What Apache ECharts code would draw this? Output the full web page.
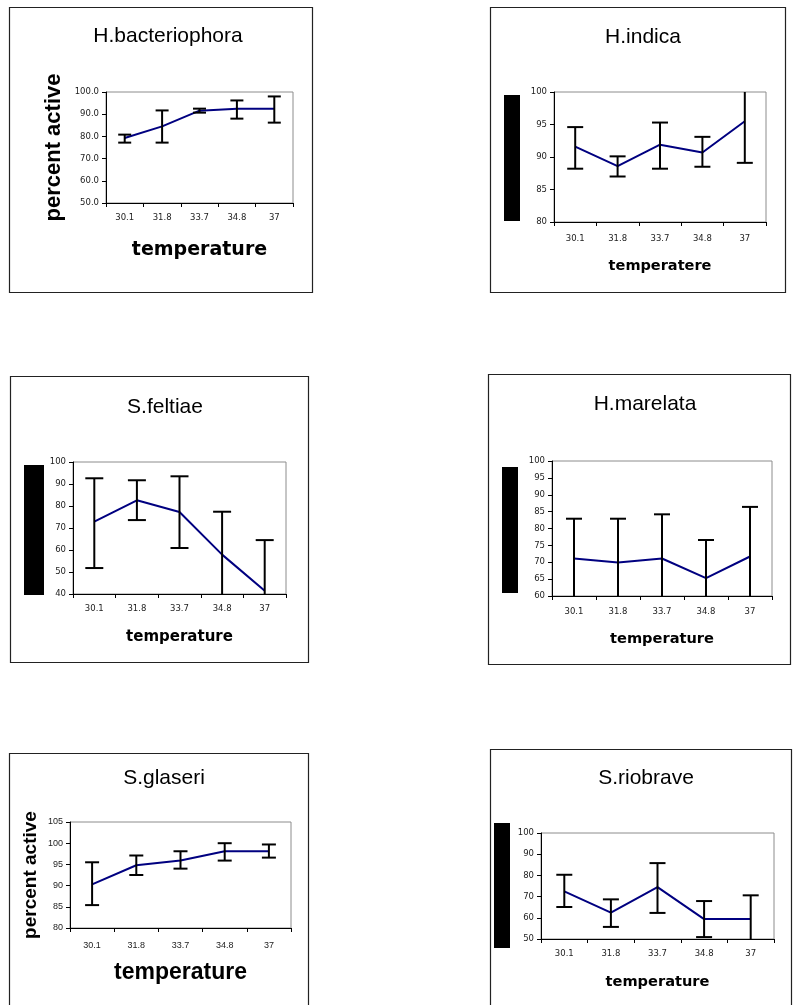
<!DOCTYPE html>
<html>
<head>
<meta charset="utf-8">
<script src="https://cdn.jsdelivr.net/npm/echarts@6/dist/echarts.min.js"></script>
<style>
html,body{margin:0;padding:0;background:#fff;}
#chart{width:795px;height:1005px;}
</style>
</head>
<body>
<div id="chart"></div>
<script>
// ---- data ----
const categories = ['30.1', '31.8', '33.7', '34.8', '37'];
const panelTitles = ['H.bacteriophora', 'H.indica', 'S.feltiae', 'H.marelata', 'S.glaseri', 'S.riobrave'];
const xAxisNames = ['temperature', 'temperatere', 'temperature', 'temperature', 'temperature', 'temperature'];
const yAxisNames = ['percent active', '', '', '', 'percent active', ''];

const bacteriophoraMean = [79.3, 84.5, 91.6, 92.5, 92.5];
const bacteriophoraLow  = [77.2, 77.2, 90.7, 88.0, 86.2];
const bacteriophoraHigh = [80.8, 91.7, 92.5, 96.2, 98.0];

const indicaMean = [91.6, 88.6, 91.9, 90.7, 95.5];
const indicaLow  = [88.2, 87.0, 88.2, 88.5, 89.1];
const indicaHigh = [94.6, 90.1, 95.3, 93.1, 101.9];

const feltiaeMean = [72.9, 82.6, 77.3, 57.9, 41.5];
const feltiaeLow  = [51.8, 73.6, 60.9, 38.4, 18.5];
const feltiaeHigh = [92.6, 91.7, 93.5, 77.4, 64.5];

const marelataMean = [71.1, 69.9, 71.1, 65.3, 71.7];
const marelataLow  = [59.3, 56.9, 58.0, 54.0, 57.0];
const marelataHigh = [82.9, 82.9, 84.2, 76.6, 86.4];

const glaseriMean = [90.3, 94.8, 95.9, 98.1, 98.1];
const glaseriLow  = [85.4, 92.5, 94.0, 95.9, 96.6];
const glaseriHigh = [95.5, 97.1, 98.1, 100.0, 99.7];

const riobraveMean = [72.5, 62.4, 74.5, 59.4, 59.4];
const riobraveLow  = [65.1, 55.7, 62.3, 50.9, 48.2];
const riobraveHigh = [80.3, 68.7, 85.8, 67.9, 70.6];

const yMins = [50, 80, 40, 60, 80, 50];
const yMaxs = [100, 100, 100, 100, 105, 100];
const yIntervals = [10, 5, 10, 5, 5, 10];
const yDecimals = [1, 0, 0, 0, 0, 0];

const means = [bacteriophoraMean, indicaMean, feltiaeMean, marelataMean, glaseriMean, riobraveMean];
const lows = [bacteriophoraLow, indicaLow, feltiaeLow, marelataLow, glaseriLow, riobraveLow];
const highs = [bacteriophoraHigh, indicaHigh, feltiaeHigh, marelataHigh, glaseriHigh, riobraveHigh];

// ---- layout / style ----
const grids = [
  {left: 106, top: 92, width: 187, height: 111},
  {left: 554, top: 92, width: 212, height: 130},
  {left: 73, top: 462, width: 213, height: 132},
  {left: 552, top: 461, width: 220, height: 135},
  {left: 70, top: 822, width: 221, height: 106},
  {left: 541, top: 833, width: 233, height: 106}
];
const boxes = [
  [9.5, 7.5, 303, 285],
  [490.5, 7.5, 295, 285],
  [10.5, 376.5, 298, 286],
  [488.5, 374.5, 302, 290],
  [9.5, 753.5, 299, 270],
  [490.5, 749.5, 301, 270]
];
const blackBars = [
  null,
  [504, 95, 16, 126],
  [24, 465, 20, 130],
  [502, 467, 16, 126],
  null,
  [494, 823, 16, 125]
];
const titlePos = [[163, 31], [638, 32], [160, 402], [640, 399], [159, 773], [641, 773]];
const xNameGap = [47, 44, 43, 43, 45, 43];
const xNameSize = [19, 14.5, 15, 14.6, 23, 14.6];
const xNameFont = ['DejaVu Sans', 'DejaVu Sans', 'DejaVu Sans', 'DejaVu Sans', 'Liberation Sans', 'DejaVu Sans'];
const xLabelMargin = [10, 12, 10, 11, 13, 10];
const yNameGap = [52, 0, 0, 0, 39, 0];
const yNameSize = [22, 0, 0, 0, 19, 0];
const capHalf = [6.5, 8, 9, 8, 7, 8];

const chart = echarts.init(document.getElementById('chart'), null, {renderer: 'canvas'});

const option = {
  animation: false,
  backgroundColor: '#fff',
  title: panelTitles.map((t, i) => ({
    text: t,
    left: titlePos[i][0],
    top: titlePos[i][1],
    textAlign: 'center',
    textVerticalAlign: 'middle',
    textStyle: {fontFamily: 'Liberation Sans, Arial', fontSize: 21, fontWeight: 'normal', color: '#000'}
  })),
  grid: grids.map(g => ({
    left: g.left, top: g.top, width: g.width, height: g.height,
    show: true, borderColor: '#8c8c8c', borderWidth: 1, backgroundColor: 'transparent',
    containLabel: false
  })),
  xAxis: grids.map((g, i) => ({
    type: 'category',
    gridIndex: i,
    data: categories,
    boundaryGap: true,
    name: xAxisNames[i],
    nameLocation: 'middle',
    nameGap: xNameGap[i],
    nameTextStyle: {
      fontFamily: xNameFont[i], fontWeight: 'bold', fontSize: xNameSize[i], color: '#000',
      verticalAlign: 'middle', align: 'center'
    },
    axisLine: {show: true, lineStyle: {color: '#000', width: 1}},
    axisTick: {show: true, inside: false, length: 4, alignWithLabel: false, lineStyle: {color: '#000'}},
    axisLabel: {
      margin: xLabelMargin[i],
      fontFamily: i === 4 ? 'Liberation Sans, Arial' : 'DejaVu Sans',
      fontSize: i === 4 ? 9 : 8.5,
      color: '#222'
    },
    splitLine: {show: false}
  })),
  yAxis: grids.map((g, i) => ({
    type: 'value',
    gridIndex: i,
    min: yMins[i],
    max: yMaxs[i],
    interval: yIntervals[i],
    name: yAxisNames[i],
    nameLocation: 'middle',
    nameGap: yNameGap[i],
    nameRotate: 90,
    nameTextStyle: {
      fontFamily: 'Liberation Sans, Arial', fontWeight: 'bold', fontSize: yNameSize[i] || 12, color: '#000',
      verticalAlign: 'middle', align: 'center'
    },
    axisLine: {show: true, lineStyle: {color: '#000', width: 1}},
    axisTick: {show: true, inside: false, length: 4, lineStyle: {color: '#000'}},
    axisLabel: {
      margin: 7,
      fontFamily: i === 4 ? 'Liberation Sans, Arial' : 'DejaVu Sans',
      fontSize: i === 4 ? 9 : 8.5,
      color: '#222',
      formatter: v => v.toFixed(yDecimals[i])
    },
    splitLine: {show: false}
  })),
  graphic: [],
  series: []
};

boxes.forEach(b => {
  option.graphic.push({
    type: 'rect', silent: true,
    shape: {x: b[0], y: b[1], width: b[2], height: b[3]},
    style: {fill: 'none', stroke: '#222', lineWidth: 1.2},
    z: 100
  });
});
blackBars.forEach(b => {
  if (!b) return;
  option.graphic.push({
    type: 'rect', silent: true,
    shape: {x: b[0], y: b[1], width: b[2], height: b[3]},
    style: {fill: '#000'},
    z: 100
  });
});

means.forEach((m, i) => {
  option.series.push({
    type: 'line',
    xAxisIndex: i, yAxisIndex: i,
    data: m,
    symbol: 'none',
    clip: true,
    lineStyle: {color: '#000080', width: 2},
    z: 2
  });
  option.series.push({
    type: 'custom',
    xAxisIndex: i, yAxisIndex: i,
    data: categories.map((c, k) => [k, lows[i][k], highs[i][k]]),
    z: 3,
    renderItem: function (params, api) {
      const cs = params.coordSys;
      const idx = api.value(0);
      const pLow = api.coord([idx, api.value(1)]);
      const pHigh = api.coord([idx, api.value(2)]);
      const x = pLow[0];
      const top = cs.y, bottom = cs.y + cs.height;
      const yHigh = Math.max(top, pHigh[1]);
      const yLow = Math.min(bottom, pLow[1]);
      const h = capHalf[i];
      const children = [{
        type: 'line', shape: {x1: x, y1: yHigh, x2: x, y2: yLow},
        style: {stroke: '#000', lineWidth: 2}
      }];
      if (pHigh[1] >= top) {
        children.push({type: 'line', shape: {x1: x - h, y1: pHigh[1], x2: x + h, y2: pHigh[1]}, style: {stroke: '#000', lineWidth: 2}});
      }
      if (pLow[1] <= bottom) {
        children.push({type: 'line', shape: {x1: x - h, y1: pLow[1], x2: x + h, y2: pLow[1]}, style: {stroke: '#000', lineWidth: 2}});
      }
      return {type: 'group', children: children};
    }
  });
});

chart.setOption(option);
</script>
</body>
</html>
